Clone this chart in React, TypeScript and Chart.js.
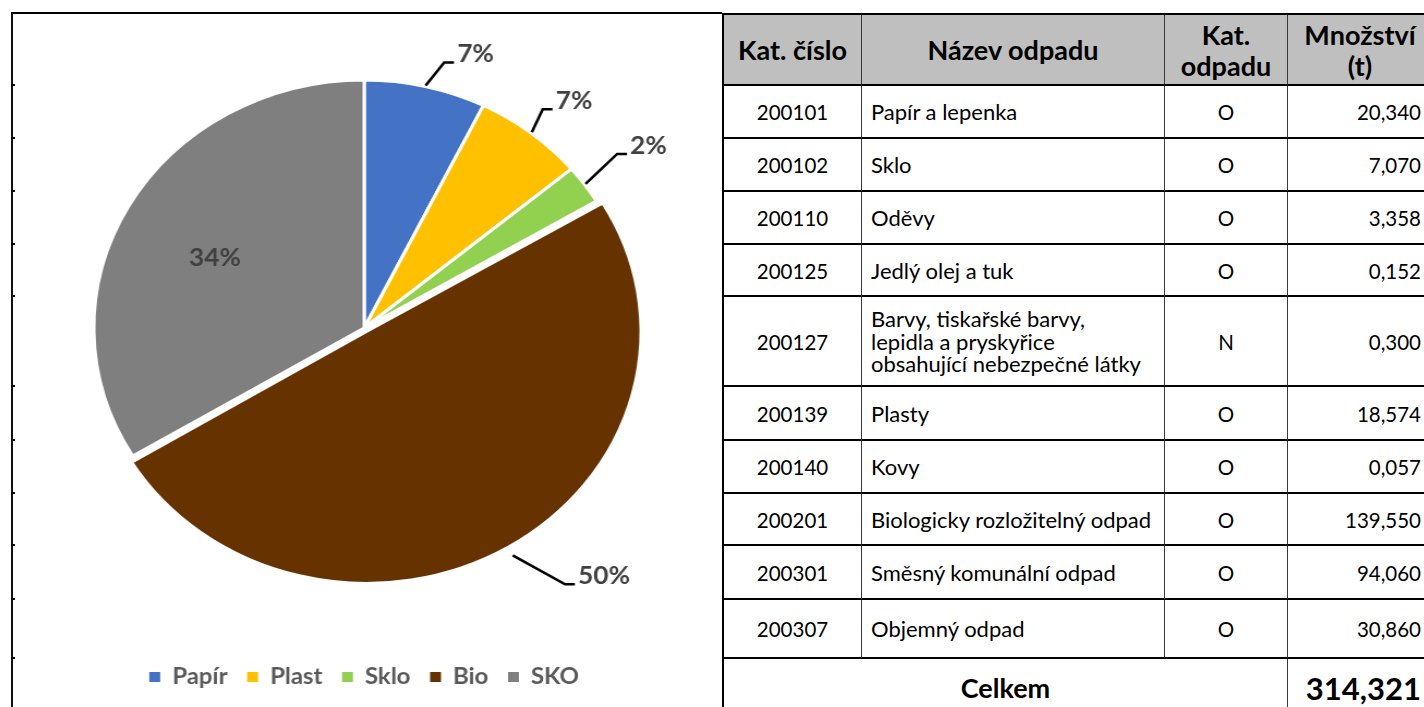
import React, { useEffect, useRef } from "react";
import { Chart, registerables } from "chart.js";

Chart.register(...registerables);

// ---- pie data ----
const categories = ["Papír", "Plast", "Sklo", "Bio", "SKO"];
const values = [20.34, 18.574, 7.07, 139.55, 94.06];
const percentLabels = ["7%", "7%", "2%", "50%", "34%"];
const sliceColors = ["#4472C4", "#FFC000", "#92D050", "#663300", "#7F7F7F"];

// ---- table data ----
const headers = ["Kat. číslo", "Název odpadu", "Kat.\nodpadu", "Množství\n(t)"];
const katCisla = ["200101", "200102", "200110", "200125", "200127", "200139", "200140", "200201", "200301", "200307"];
const nazvy = [
  "Papír a lepenka",
  "Sklo",
  "Oděvy",
  "Jedlý olej a tuk",
  "Barvy, tiskařské barvy,\nlepidla a pryskyřice\nobsahující nebezpečné látky",
  "Plasty",
  "Kovy",
  "Biologicky rozložitelný odpad",
  "Směsný komunální odpad",
  "Objemný odpad",
];
const katOdpadu = ["O", "O", "O", "O", "N", "O", "O", "O", "O", "O"];
const mnozstvi = ["20,340", "7,070", "3,358", "0,152", "0,300", "18,574", "0,057", "139,550", "94,060", "30,860"];
const totalLabel = "Celkem";
const totalValue = "314,321";

// ---- layout / style (not data) ----
const STRETCH = 1.09;
const PIE_RADIUS = 248;
const sliceOffsets = [0, 0, 0, 16, 0];
const leaderOffsets: (number[] | null)[] = [[17, -23], [10, -23], [29, -30], [48, 29], null];
const insideLabelShift = [-3, 6];
const colWidths = [138, 303, 123, 144];
const headerHeight = 71;
const rowHeights = [53, 53, 53, 52, 90, 54, 53, 52, 54, 59];
const totalRowHeight = 58;

const labelPlugin = {
  id: "pctLabels",
  afterDatasetsDraw(chart: any) {
    const ctx = chart.ctx;
    const meta = chart.getDatasetMeta(0);
    ctx.save();
    meta.data.forEach((arc: any, i: number) => {
      const p = arc.getProps(["x", "y", "startAngle", "endAngle", "outerRadius"], true);
      const mid = (p.startAngle + p.endAngle) / 2;
      const off = sliceOffsets[i];
      const cx = p.x + Math.cos(mid) * off;
      const cy = p.y + Math.sin(mid) * off;
      ctx.font = "bold 24px Lato";
      ctx.fillStyle = "#404040";
      const lo = leaderOffsets[i];
      if (!lo) {
        const tx = cx + Math.cos(mid) * p.outerRadius * 0.62 + insideLabelShift[0];
        const ty = cy + Math.sin(mid) * p.outerRadius * 0.62 + insideLabelShift[1];
        ctx.textAlign = "center";
        ctx.textBaseline = "middle";
        ctx.fillText(percentLabels[i], tx, ty);
      } else {
        const sx = cx + Math.cos(mid) * (p.outerRadius + 1);
        const sy = cy + Math.sin(mid) * (p.outerRadius + 1);
        const ex = sx + lo[0];
        const ey = sy + lo[1];
        const hx = ex + 9;
        ctx.strokeStyle = "#000";
        ctx.lineWidth = 2.6;
        ctx.lineJoin = "miter";
        ctx.beginPath();
        ctx.moveTo(sx, sy);
        ctx.lineTo(ex, ey);
        ctx.lineTo(hx, ey);
        ctx.stroke();
        ctx.textAlign = "left";
        ctx.textBaseline = "middle";
        ctx.fillText(percentLabels[i], hx + 3, ey - 8);
      }
    });
    ctx.restore();
  },
};

function PieChart() {
  const ref = useRef<HTMLCanvasElement | null>(null);
  useEffect(() => {
    if (!ref.current) return;
    const baseGen =
      (Chart as any).overrides?.doughnut?.plugins?.legend?.labels?.generateLabels;
    const chart = new Chart(ref.current, {
      type: "pie",
      data: {
        labels: categories,
        datasets: [
          {
            data: values,
            backgroundColor: sliceColors,
            borderColor: "#ffffff",
            borderWidth: 3,
            offset: sliceOffsets,
            radius: PIE_RADIUS,
          } as any,
        ],
      },
      options: {
        animation: false,
        responsive: false,
        events: [],
        radius: PIE_RADIUS,
        layout: { padding: { left: 4, right: 0, top: 0, bottom: 9 } },
        plugins: {
          legend: {
            position: "bottom",
            labels: {
              boxWidth: 10,
              boxHeight: 10,
              padding: 18,
              color: "#595959",
              font: { family: "Lato", size: 22, weight: "bold" },
              generateLabels: (c: any) =>
                (baseGen ? baseGen(c) : []).map((l: any) => ({ ...l, lineWidth: 0 })),
            },
          },
          tooltip: { enabled: false },
        },
      } as any,
      plugins: [labelPlugin],
    });
    return () => chart.destroy();
  }, []);
  return <canvas ref={ref} width={644} height={699} />;
}

type Kind = "num" | "name" | "header" | "total" | "totalNum";
const fontSizes: Record<Kind, number> = { num: 20.5, name: 22, header: 27, total: 27, totalNum: 31 };

function Cell(props: {
  children: React.ReactNode;
  align: "left" | "center" | "right";
  kind: Kind;
  span?: number;
  last?: boolean;
}) {
  const justify = props.align === "left" ? "flex-start" : props.align === "right" ? "flex-end" : "center";
  const header = props.kind === "header";
  const bold = header || props.kind === "total" || props.kind === "totalNum";
  const padding = header
    ? "0 4px"
    : props.align === "right"
    ? "2px 11px 0 4px"
    : props.align === "left"
    ? "2px 4px 0 9px"
    : "2px 4px 0 4px";
  return (
    <div
      style={{
        gridColumn: props.span ? `span ${props.span}` : undefined,
        boxSizing: "border-box",
        display: "flex",
        alignItems: "center",
        justifyContent: justify,
        textAlign: props.align,
        padding,
        borderRight: props.last ? "none" : "1px solid #3a3a3a",
        borderBottom: "2px solid #000",
        background: header ? "#BFBFBF" : "#fff",
        fontWeight: bold ? 700 : 400,
        fontSize: fontSizes[props.kind],
        lineHeight: header ? "31px" : "22.5px",
        whiteSpace: "pre",
        overflow: "hidden",
      }}
    >
      {props.children}
    </div>
  );
}

function WasteTable() {
  return (
    <div
      style={{
        position: "absolute",
        left: 722,
        top: 13,
        display: "grid",
        gridTemplateColumns: colWidths.map((w) => `${w}px`).join(" "),
        gridTemplateRows: [headerHeight, ...rowHeights, totalRowHeight].map((h) => `${h}px`).join(" "),
        borderLeft: "2px solid #000",
        borderTop: "2px solid #000",
        fontFamily: "Lato, sans-serif",
        color: "#000",
      }}
    >
      {headers.map((h, i) => (
        <Cell key={"h" + i} align="center" kind="header" last={i === 3}>
          {h}
        </Cell>
      ))}
      {katCisla.map((k, r) => (
        <React.Fragment key={"r" + r}>
          <Cell align="center" kind="num">{k}</Cell>
          <Cell align="left" kind="name">{nazvy[r]}</Cell>
          <Cell align="center" kind="num">{katOdpadu[r]}</Cell>
          <Cell align="right" kind="num" last>
            {mnozstvi[r]}
          </Cell>
        </React.Fragment>
      ))}
      <Cell align="center" kind="total" span={3}>
        {totalLabel}
      </Cell>
      <Cell align="right" kind="totalNum" last>
        {totalValue}
      </Cell>
    </div>
  );
}

export default function App() {
  const tickYs: number[] = [];
  let acc = 15 + headerHeight;
  tickYs.push(acc);
  rowHeights.forEach((h) => {
    acc += h;
    tickYs.push(acc);
  });
  return (
    <div
      style={{
        position: "fixed",
        left: 0,
        top: 0,
        width: 1424,
        height: 707,
        overflow: "hidden",
        background: "#fff",
      }}
    >
      <div
        style={{
          position: "absolute",
          left: 11,
          top: 12,
          width: 711,
          height: 700,
          borderLeft: "2px solid #111",
          borderTop: "2px solid #000",
          boxSizing: "border-box",
        }}
      />
      {tickYs.map((y, i) => (
        <div
          key={"t" + i}
          style={{ position: "absolute", left: 11, top: y - 2, width: 4, height: 2, background: "#000" }}
        />
      ))}
      <div
        style={{
          position: "absolute",
          left: 11,
          top: 8,
          transform: `scaleX(${STRETCH})`,
          transformOrigin: "0 0",
        }}
      >
        <PieChart />
      </div>
      <WasteTable />
    </div>
  );
}
